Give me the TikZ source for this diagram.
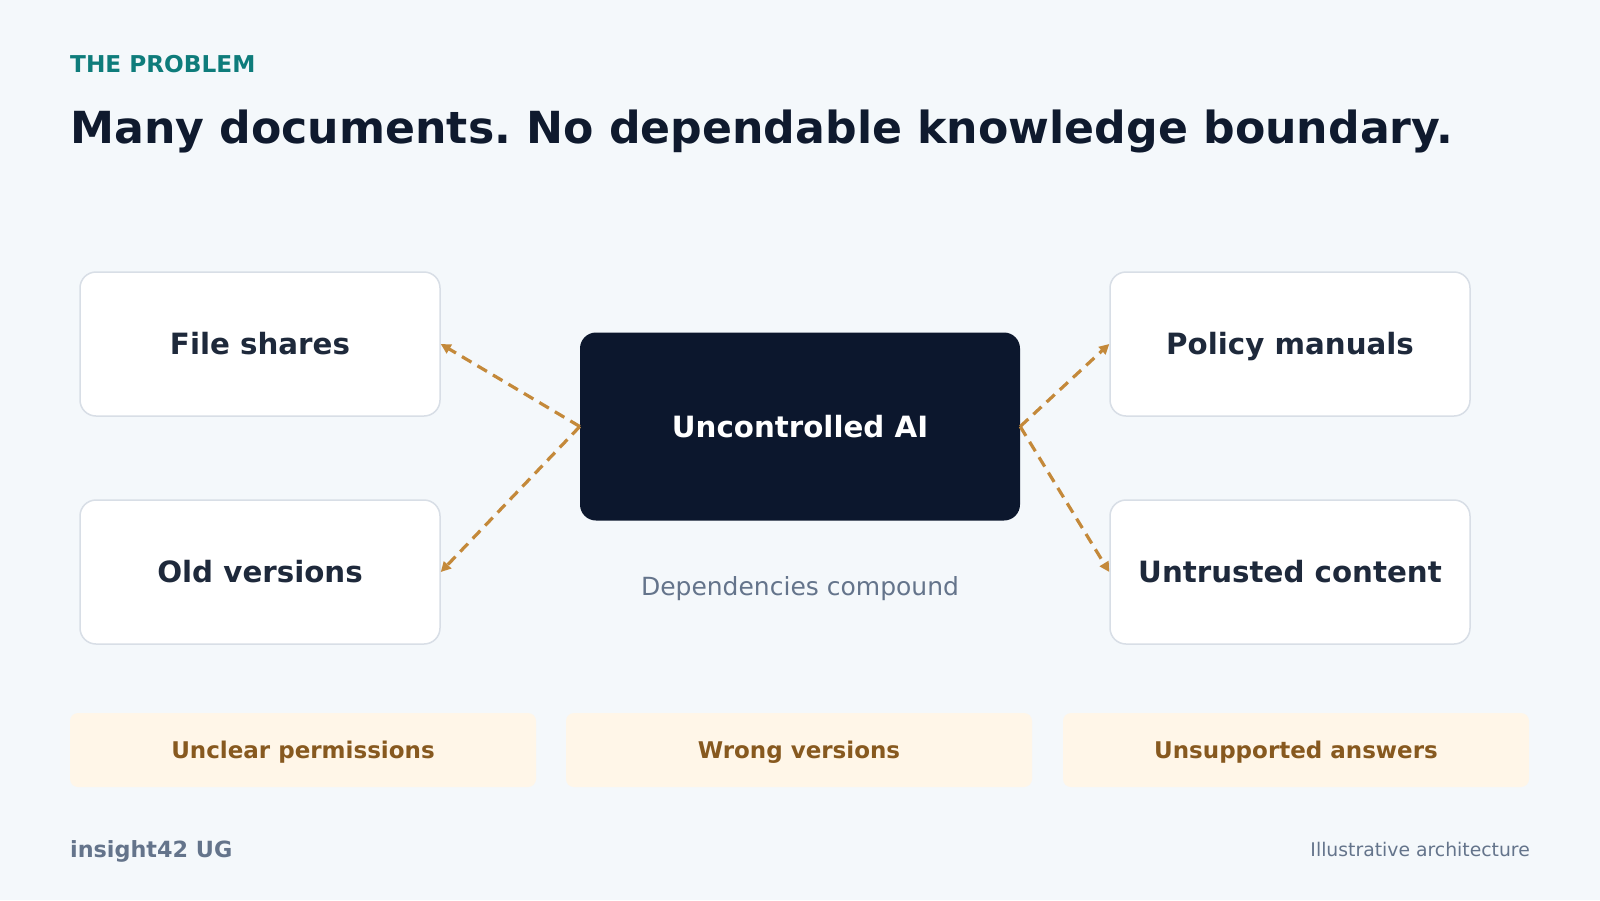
\documentclass[tikz,border=0pt]{standalone}
\usepackage{fontspec}
\setmainfont{DejaVu Sans}
\usetikzlibrary{positioning,calc,arrows.meta}
\frenchspacing
\definecolor{pagebg}{HTML}{F4F8FB}
\definecolor{kicker}{HTML}{0E7C7B}
\definecolor{headtext}{HTML}{0F1A2E}
\definecolor{srcline}{HTML}{D8DEE6}
\definecolor{srctext}{HTML}{1E293B}
\definecolor{corefill}{HTML}{0C172D}
\definecolor{flowline}{HTML}{C4893A}
\definecolor{riskfill}{HTML}{FFF6E8}
\definecolor{risktext}{HTML}{87591F}
\definecolor{muted}{HTML}{64748B}
\tikzset{
  src/.style={draw=srcline, fill=white, rounded corners=16pt, line width=1.5pt,
              minimum width=360pt, minimum height=144pt, text=srctext,
              text height=21.4pt, text depth=0pt,
              font=\fontsize{29.3}{34}\selectfont\bfseries},
  core/.style={fill=corefill, rounded corners=16pt, minimum width=440pt, minimum height=188pt,
               text=white, text height=21.4pt, text depth=0pt,
               font=\fontsize{29.3}{34}\selectfont\bfseries},
  risk/.style={fill=riskfill, rounded corners=8pt, minimum width=466pt, minimum height=74pt,
               text=risktext, text height=16.8pt, text depth=0pt,
               font=\fontsize{23}{27}\selectfont\bfseries},
  flow/.style={-{Triangle[length=10pt,width=10pt]}, draw=flowline, line width=3.2pt,
               dash pattern=on 11pt off 7pt},
  txt/.style={inner sep=0pt},
}

\begin{document}
\begin{tikzpicture}[x=1pt, y=-1pt]
  \fill[pagebg] (0,0) rectangle (1600,900);
  \useasboundingbox (0,0) rectangle (1600,900);
  % Heading
  \node[txt, anchor=base west, text=kicker, font=\fontsize{23.2}{27}\selectfont\bfseries] (kick) at (70,72.5) {THE PROBLEM};
  \node[txt, anchor=west, text=headtext, font=\fontsize{44.2}{52}\selectfont\bfseries] (head) at (70,131) {Many documents. No dependable knowledge boundary.};
  % Sources and the AI
  \node[src] (fs) at (260,344) {File shares};
  \node[src] (ov) at (260,572) {Old versions};
  \node[src] (pm) at (1290,344) {Policy manuals};
  \node[src] (uc) at (1290,572) {Untrusted content};
  \node[core] (ai) at (800,426.5) {Uncontrolled AI};
  \node[txt, text=muted, font=\fontsize{25}{29}\selectfont] (dep) at (800,589) {Dependencies compound};
  \foreach \t in {fs,ov}{\draw[flow] (ai.west) -- (\t.east);}
  \foreach \t in {pm,uc}{\draw[flow] (ai.east) -- (\t.west);}
  % Risks
  \node[risk] (r1) at (303,750) {Unclear permissions};
  \node[risk] (r2) at (799,750) {Wrong versions};
  \node[risk] (r3) at (1296,750) {Unsupported answers};
  % Footer
  \node[txt, anchor=west, text=muted, font=\fontsize{22.3}{26}\selectfont\bfseries] (brand) at (70,851) {insight42 UG};
  \node[txt, anchor=east, text=muted, font=\fontsize{18.8}{22}\selectfont] (note) at (1530,849) {Illustrative architecture};
\end{tikzpicture}
\end{document}
